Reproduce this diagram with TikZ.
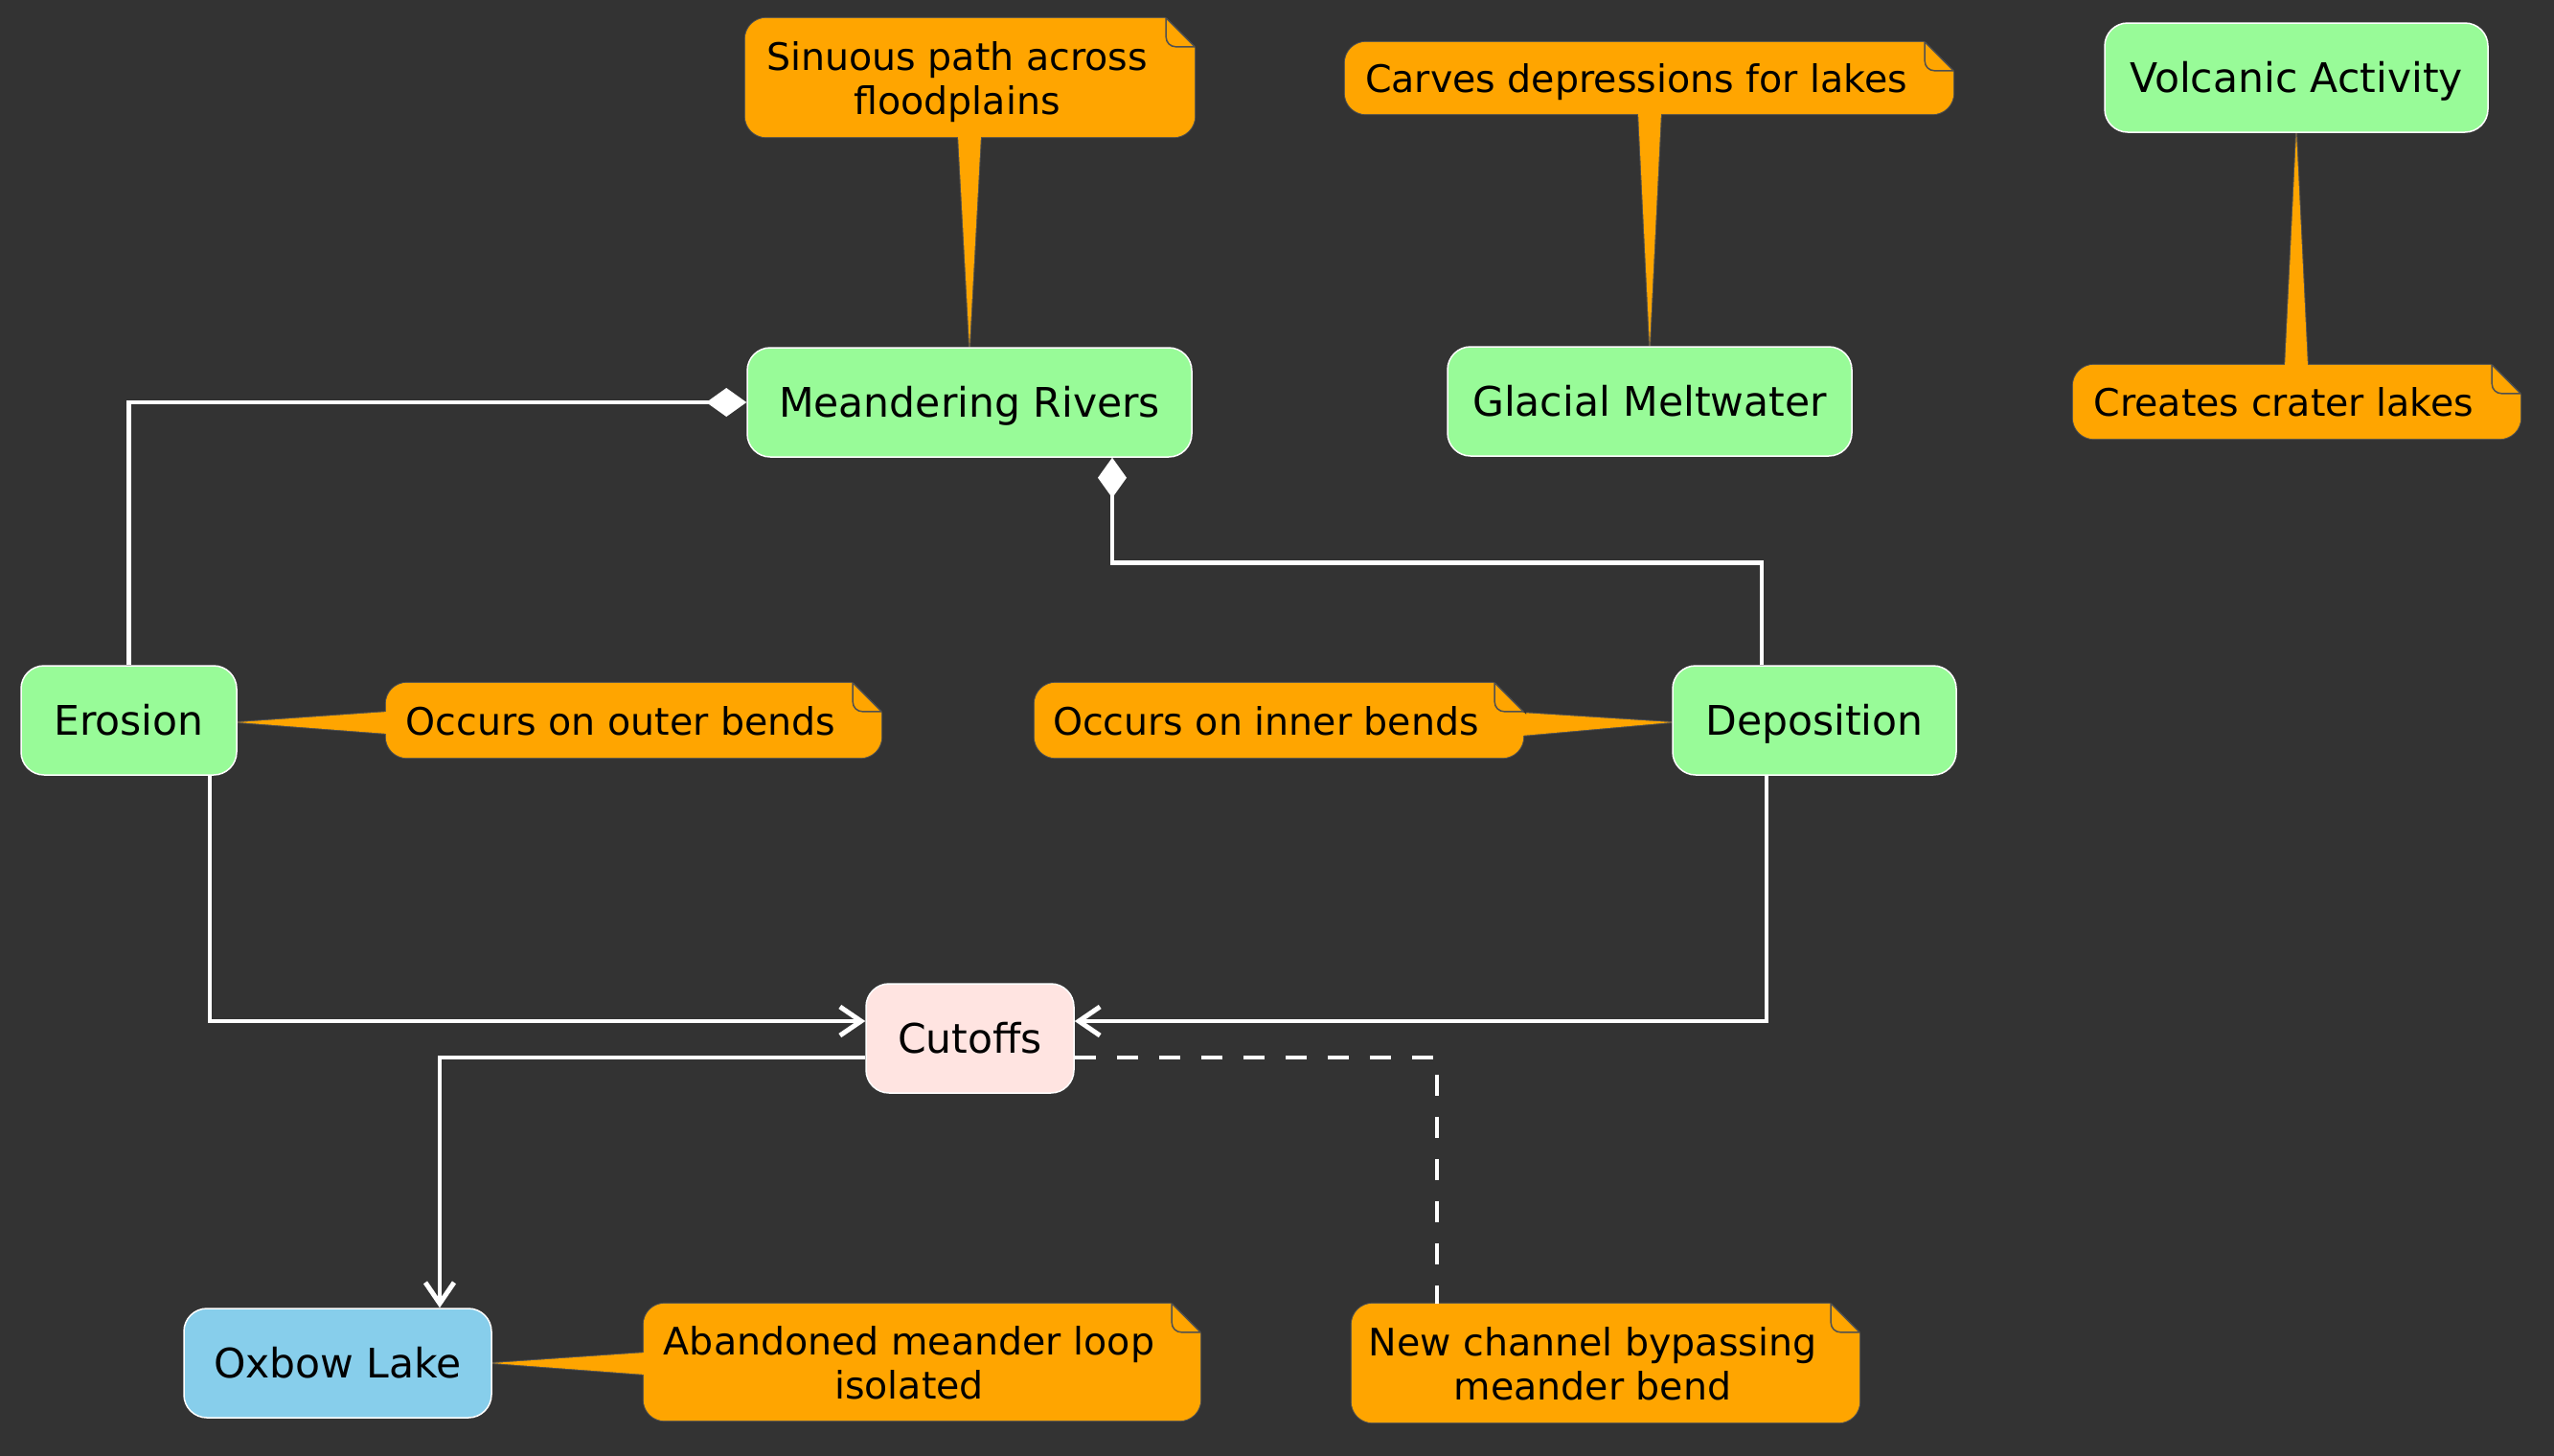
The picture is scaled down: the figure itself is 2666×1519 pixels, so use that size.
\documentclass[tikz,border=0pt]{standalone}
\usepackage{fontspec}
\setmainfont{DejaVu Sans}
\usetikzlibrary{calc,arrows.meta}
\pgfdeclarelayer{bgl}
\pgfdeclarelayer{notel}
\pgfsetlayers{bgl,notel,main}
\definecolor{bgc}{HTML}{333333}
\definecolor{nodegreen}{HTML}{98FB98}
\definecolor{nodepink}{HTML}{FFE4E1}
\definecolor{nodeblue}{HTML}{87CEEB}
\definecolor{noteorange}{HTML}{FFA500}
\definecolor{noteedge}{HTML}{505050}
\tikzset{
  procbox/.style={rectangle, rounded corners=24pt, draw=white, line width=1.5pt,
    inner sep=0pt, text=black, font=\fontsize{42.5}{50}\selectfont, minimum height=114pt,
    text height=31pt, text depth=0pt},
  notetext/.style={rectangle, inner sep=0pt, text=black, align=center,
    font=\fontsize{39.5}{46}\selectfont, text depth=0pt},
  noteborder/.style={draw=noteedge, line width=2pt, rounded corners=22pt},
  notefillst/.style={fill=noteorange, rounded corners=22pt},
  tailst/.style={fill=noteorange, draw=noteedge, line width=2pt, line join=miter},
  foldline/.style={draw=noteedge, line width=1.5pt},
  flow/.style={draw=white, line width=4.5pt},
  arr/.style={flow, -{Straight Barb[length=22pt, width=30pt, line width=5pt]}},
  comp/.style={flow, -{Diamond[length=42pt, width=30pt, fill=white]}},
  dashlink/.style={flow, dash pattern=on 22pt off 22pt}
}
\newcommand{\notefold}[1]{%
  \fill[bgc] ($(#1.north east)+(-5,-2)$) -- ($(#1.north east)+(30,-2)$) -- ($(#1.north east)+(30,33)$) -- cycle;
  \draw[foldline] ($(#1.north east)+(-3,0)$) -- ($(#1.north east)+(27,30)$);
  \draw[foldline, rounded corners=10pt] ($(#1.north east)+(-3,0)$) -- ($(#1.north east)+(-3,30)$) -- ($(#1.north east)+(27,30)$);
}
\newcommand{\notebody}[1]{%
  \path[noteborder] (#1.north west) rectangle ($(#1.south east)+(27,0)$);
  \path[notefillst] (#1.north west) rectangle ($(#1.south east)+(27,0)$);
}
\newcommand{\notewithtail}[4]{%
  \path[tailst] (#2) -- (#4) -- (#3) -- cycle;
  \notebody{#1}
  \fill[noteorange] (#2) -- (#4) -- (#3) -- cycle;
  \notefold{#1}
}
\begin{document}
\begin{tikzpicture}[x=1pt, y=-1pt]
\useasboundingbox (0,0) rectangle (2666,1519);
\begin{pgfonlayer}{bgl}
  \fill[bgc] (-20,-20) rectangle (2686,1539);
\end{pgfonlayer}

% process nodes
\node[procbox, fill=nodegreen, minimum width=464pt] (mr) at (1012,420) {Meandering Rivers};
\node[procbox, fill=nodegreen, minimum width=422pt] (gm) at (1722,419) {Glacial Meltwater};
\node[procbox, fill=nodegreen, minimum width=400pt] (va) at (2397,81) {Volcanic Activity};
\node[procbox, fill=nodegreen, minimum width=225pt] (er) at (134.5,752) {Erosion};
\node[procbox, fill=nodegreen, minimum width=296pt] (de) at (1894,752) {Deposition};
\node[procbox, fill=nodepink, minimum width=217pt] (cu) at (1012.5,1084) {Cutoffs};
\node[procbox, fill=nodeblue, minimum width=321pt] (ox) at (352.5,1423) {Oxbow Lake};

% note texts
\node[notetext, minimum width=442pt, minimum height=124pt] (n1) at (999,81) {Sinuous path across\\floodplains};
\node[notetext, minimum width=608pt, minimum height=75pt] (n2) at (1708,81.5) {Carves depressions for lakes};
\node[notetext, minimum width=440pt, minimum height=77pt] (n3) at (2384,419.5) {Creates crater lakes};
\node[notetext, minimum width=490pt, minimum height=78pt] (n4) at (648,752) {Occurs on outer bends};
\node[notetext, minimum width=483pt, minimum height=78pt] (n5) at (1321.5,752) {Occurs on inner bends};
\node[notetext, minimum width=554pt, minimum height=122pt] (n6) at (949,1422) {Abandoned meander loop\\isolated};
\node[notetext, minimum width=503pt, minimum height=124pt] (n7) at (1662.5,1423) {New channel bypassing\\meander bend};

% note shapes
\begin{pgfonlayer}{notel}
  \notewithtail{n1}{$(mr.north |- n1.south)+(-12,-2)$}{$(mr.north |- n1.south)+(12,-2)$}{mr.north}
  \notewithtail{n2}{$(gm.north |- n2.south)+(-12,-2)$}{$(gm.north |- n2.south)+(12,-2)$}{gm.north}
  \notewithtail{n3}{$(va.south |- n3.north)+(-12,2)$}{$(va.south |- n3.north)+(12,2)$}{va.south}
  \notewithtail{n4}{$(n4.west)+(2,-9)$}{$(n4.west)+(2,14)$}{$(er.east)+(0,2)$}
  \notewithtail{n5}{$(n5.east)+(25,-8)$}{$(n5.east)+(25,16)$}{$(de.west)+(0,2)$}
  \notewithtail{n6}{$(n6.west)+(2,-10)$}{$(n6.west)+(2,13)$}{ox.east}
  \notebody{n7}
  \notefold{n7}
\end{pgfonlayer}

% connectors
\draw[comp] (er.north) |- (mr.west);
\draw[comp] ($(de.north)+(-55,0)$) -- ++(0,-107) -| ($(mr.south)+(149,0)$);
\draw[arr] ($(er.south)+(84.5,0)$) |- ($(cu.west)+(0,-18)$);
\draw[arr] ($(de.south)+(-50,0)$) |- ($(cu.east)+(0,-18)$);
\draw[arr] ($(cu.west)+(0,20)$) -| ($(ox.north)+(106.5,0)$);
\draw[dashlink] ($(cu.east)+(0,20)$) -| ($(n7.north west)+(89,0)$);
\end{tikzpicture}
\end{document}
